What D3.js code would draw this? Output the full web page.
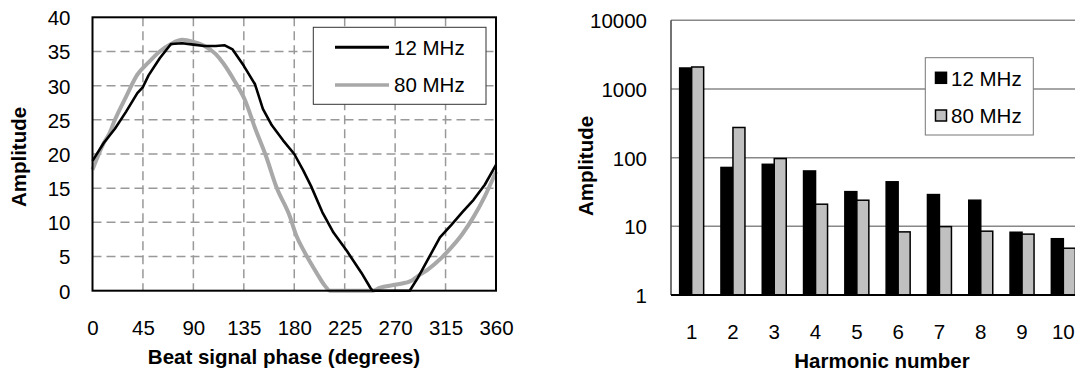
<!DOCTYPE html>
<html>
<head>
<meta charset="utf-8">
<script src="https://cdn.jsdelivr.net/npm/d3@7"></script>
<style>
  body { margin: 0; background: #fff; }
  text { font-family: "Liberation Sans", Arial, sans-serif; }
</style>
</head>
<body>
<div id="chart"></div>
<script>
// left panel: amplitude vs beat signal phase
var phaseTicks = [0, 45, 90, 135, 180, 225, 270, 315, 360]
var ampTicks = [0, 5, 10, 15, 20, 25, 30, 35, 40]

var phase12 = [0, 10, 20, 30, 40, 45, 50, 60, 70, 80, 90, 100, 110, 118, 125, 135, 145, 152, 160, 170, 180, 188, 195, 205, 215, 227, 240, 248, 250, 283, 290, 300, 310, 320, 330, 340, 350, 360]
var amp12 = [19, 21.6, 23.7, 26.2, 28.9, 29.8, 31.5, 34.0, 36.1, 36.2, 36.0, 35.8, 35.8, 35.9, 35.3, 32.9, 30.2, 26.6, 24.2, 22.0, 20.0, 17.6, 15.3, 11.5, 8.5, 5.8, 2.6, 0.4, 0, 0, 1.8, 4.8, 7.8, 9.6, 11.5, 13.3, 15.5, 18.4]

var phase80 = [0, 10, 15, 20, 30, 40, 50, 60, 70, 80, 90, 100, 110, 117, 127, 136, 145, 155, 164, 176, 182, 188, 200, 207, 212, 250, 256, 271, 285, 290, 300, 310, 320, 330, 340, 350, 360]
var amp80 = [17.7, 21.6, 23.0, 25.0, 28.4, 31.6, 33.4, 35.0, 36.1, 36.7, 36.4, 35.8, 34.6, 33.2, 30.6, 27.9, 23.8, 19.6, 15.2, 10.9, 8.0, 6.0, 2.6, 0.8, 0, 0, 0.4, 0.9, 1.5, 2.1, 3.2, 4.6, 6.3, 8.3, 10.8, 13.8, 17.4]

// right panel: harmonic amplitudes (log scale)
var harmonics = ["1", "2", "3", "4", "5", "6", "7", "8", "9", "10"]
var harm12 = [2020, 72, 80, 64, 32, 44.5, 29, 24, 8.2, 6.6]
var harm80 = [2090, 275, 97, 21, 24, 8.3, 9.9, 8.5, 7.7, 4.8]
var logTicks = [1, 10, 100, 1000, 10000]

var svg = d3.select("#chart").append("svg")
    .attr("width", 1075)
    .attr("height", 373)

var fs = 20.5

// ---------- LEFT ----------
var L = { left: 92.5, right: 496, top: 17.3, bottom: 290.7 }
var x1 = d3.scaleLinear().domain([0, 360]).range([L.left, L.right])
var y1 = d3.scaleLinear().domain([0, 40]).range([L.bottom, L.top])

var g1 = svg.append("g")

// dashed grid
g1.selectAll(".vgrid")
    .data(phaseTicks.slice(1, -1))
    .enter().append("line")
    .attr("x1", d => x1(d)).attr("x2", d => x1(d))
    .attr("y1", L.top).attr("y2", L.bottom)
    .attr("stroke", "#999").attr("stroke-width", 1.5)
    .attr("stroke-dasharray", "9,5")
g1.selectAll(".hgrid")
    .data(ampTicks.slice(1, -1))
    .enter().append("line")
    .attr("x1", L.left).attr("x2", L.right)
    .attr("y1", d => y1(d)).attr("y2", d => y1(d))
    .attr("stroke", "#999").attr("stroke-width", 1.5)
    .attr("stroke-dasharray", "9,5")

var line1 = d3.line()
    .x(d => x1(d[0]))
    .y(d => y1(d[1]))

g1.append("path")
    .datum(d3.zip(phase80, amp80))
    .attr("d", line1.curve(d3.curveMonotoneX))
    .attr("fill", "none")
    .attr("stroke", "#a8a8a8")
    .attr("stroke-width", 4)

g1.append("path")
    .datum(d3.zip(phase12, amp12))
    .attr("d", line1.curve(d3.curveLinear))
    .attr("fill", "none")
    .attr("stroke", "#000")
    .attr("stroke-width", 2.6)
    .attr("stroke-linejoin", "round")

g1.append("rect")
    .attr("x", L.left).attr("y", L.top)
    .attr("width", L.right - L.left).attr("height", L.bottom - L.top)
    .attr("fill", "none").attr("stroke", "#000").attr("stroke-width", 2)

// axes (labels only)
var ax1 = g1.append("g")
    .attr("transform", "translate(0," + L.bottom + ")")
    .call(d3.axisBottom(x1).tickValues(phaseTicks).tickSize(0).tickPadding(0))
ax1.select(".domain").remove()
ax1.selectAll("text")
    .attr("y", 0).attr("dy", 44)
    .style("font-size", fs + "px").attr("fill", "#000")

var ay1 = g1.append("g")
    .attr("transform", "translate(" + L.left + ",0)")
    .call(d3.axisLeft(y1).tickValues(ampTicks).tickSize(0).tickPadding(22))
ay1.select(".domain").remove()
ay1.selectAll("text")
    .attr("dy", "0.36em")
    .style("font-size", fs + "px").attr("fill", "#000")

g1.append("text")
    .attr("x", 284).attr("y", 364)
    .attr("text-anchor", "middle")
    .style("font-size", fs + "px").style("font-weight", "bold")
    .text("Beat signal phase (degrees)")

g1.append("text")
    .attr("transform", "translate(26,157) rotate(-90)")
    .attr("text-anchor", "middle")
    .style("font-size", fs + "px").style("font-weight", "bold")
    .text("Amplitude")

// legend
var lg1 = g1.append("g")
lg1.append("rect")
    .attr("x", 313.3).attr("y", 27.3)
    .attr("width", 172.7).attr("height", 77)
    .attr("fill", "#fff").attr("stroke", "#333").attr("stroke-width", 1)
var leg1 = [["12 MHz", "#000", 3, 47.3], ["80 MHz", "#a8a8a8", 3.5, 85]]
leg1.forEach(function (d) {
    lg1.append("line")
        .attr("x1", 335).attr("x2", 389)
        .attr("y1", d[3]).attr("y2", d[3])
        .attr("stroke", d[1]).attr("stroke-width", d[2])
    lg1.append("text")
        .attr("x", 394).attr("y", d[3]).attr("dy", "0.36em")
        .style("font-size", fs + "px")
        .text(d[0])
})

// ---------- RIGHT ----------
var R = { left: 671, right: 1084, top: 20.3, bottom: 295 }
var x2 = d3.scaleBand().domain(harmonics).range([R.left, R.right])
var y2 = d3.scaleLog().domain([1, 10000]).range([R.bottom, R.top])
var bw = 12

var g2 = svg.append("g")

g2.selectAll(".lgrid")
    .data(logTicks.slice(1))
    .enter().append("line")
    .attr("x1", R.left).attr("x2", R.right)
    .attr("y1", d => y2(d)).attr("y2", d => y2(d))
    .attr("stroke", "#888").attr("stroke-width", 1.5)

var groups = g2.selectAll(".grp")
    .data(harmonics)
    .enter().append("g")
    .attr("transform", d => "translate(" + (x2(d) + x2.bandwidth() / 2 - bw) + ",0)")

groups.append("rect")
    .attr("x", 0)
    .attr("y", (d, i) => y2(harm12[i]))
    .attr("width", bw)
    .attr("height", (d, i) => R.bottom - y2(harm12[i]))
    .attr("fill", "#000").attr("stroke", "#000").attr("stroke-width", 1.5)

groups.append("rect")
    .attr("x", bw)
    .attr("y", (d, i) => y2(harm80[i]))
    .attr("width", bw)
    .attr("height", (d, i) => R.bottom - y2(harm80[i]))
    .attr("fill", "#c0c0c0").attr("stroke", "#000").attr("stroke-width", 1.5)

g2.append("line")
    .attr("x1", R.left).attr("x2", R.left)
    .attr("y1", R.top).attr("y2", R.bottom)
    .attr("stroke", "#444").attr("stroke-width", 1.5)
g2.append("line")
    .attr("x1", R.left).attr("x2", R.right)
    .attr("y1", R.bottom).attr("y2", R.bottom)
    .attr("stroke", "#000").attr("stroke-width", 2)

var ax2 = g2.append("g")
    .attr("transform", "translate(0," + R.bottom + ")")
    .call(d3.axisBottom(x2).tickSize(0).tickPadding(0))
ax2.select(".domain").remove()
ax2.selectAll("text")
    .attr("y", 0).attr("dy", 44)
    .style("font-size", fs + "px").attr("fill", "#000")

var ay2 = g2.append("g")
    .attr("transform", "translate(" + R.left + ",0)")
    .call(d3.axisLeft(y2).tickValues(logTicks).tickFormat(d3.format("d")).tickSize(0).tickPadding(24))
ay2.select(".domain").remove()
ay2.selectAll("text")
    .attr("dy", "0.36em")
    .style("font-size", fs + "px").attr("fill", "#000")

g2.append("text")
    .attr("x", 882).attr("y", 368)
    .attr("text-anchor", "middle")
    .style("font-size", fs + "px").style("font-weight", "bold")
    .text("Harmonic number")

g2.append("text")
    .attr("transform", "translate(593,166) rotate(-90)")
    .attr("text-anchor", "middle")
    .style("font-size", fs + "px").style("font-weight", "bold")
    .text("Amplitude")

// legend
var lg2 = g2.append("g")
lg2.append("rect")
    .attr("x", 925.3).attr("y", 57.7)
    .attr("width", 108).attr("height", 77.3)
    .attr("fill", "#fff").attr("stroke", "#777").attr("stroke-width", 1)
var leg2 = [["12 MHz", "#000", 78.3], ["80 MHz", "#c0c0c0", 116]]
leg2.forEach(function (d) {
    lg2.append("rect")
        .attr("x", 935.5).attr("y", d[2] - 6)
        .attr("width", 11).attr("height", 11)
        .attr("fill", d[1]).attr("stroke", "#000").attr("stroke-width", 1.5)
    lg2.append("text")
        .attr("x", 951).attr("y", d[2]).attr("dy", "0.36em")
        .style("font-size", fs + "px")
        .text(d[0])
})
</script>
</body>
</html>
